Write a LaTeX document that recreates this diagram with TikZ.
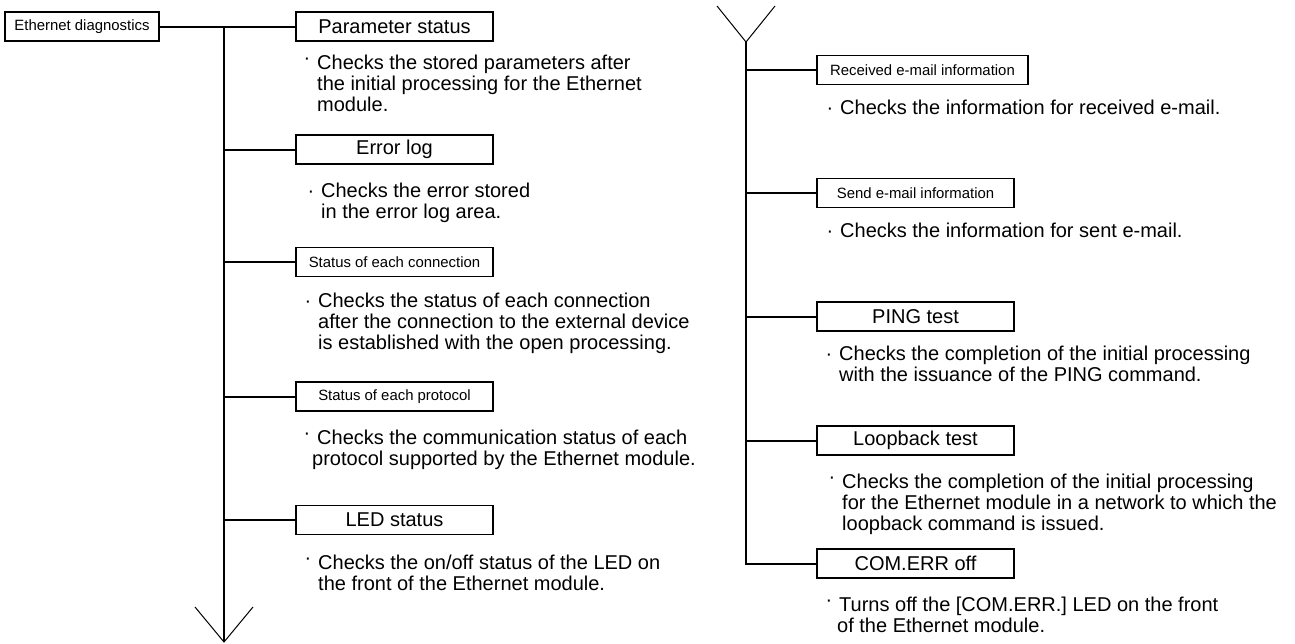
\documentclass[tikz,border=0pt]{standalone}
\usepackage{fontspec}
\setmainfont{Liberation Sans}
\usetikzlibrary{positioning,calc}

\newcommand{\dotmark}{\llap{·\hspace{7pt}}}
\newcommand{\dotmarkup}{\llap{\raisebox{5pt}{·}\hspace{7pt}}}

\begin{document}
\begin{tikzpicture}[
    x=1pt, y=-1pt,
    menu/.style={draw, rectangle, line width=1.2pt, minimum width=197pt, minimum height=29pt, inner sep=0pt, font=\fontsize{20}{24}\selectfont},
    menusmall/.style={menu, font=\fontsize{14.9}{17}\selectfont},
    note/.style={anchor=north west, align=left, inner sep=0pt, font=\fontsize{20}{21}\selectfont},
    tree/.style={line width=2pt},
    tip/.style={line width=1pt}
]
    \useasboundingbox (0,0) rectangle (1295,643);

    % left column
    \node[menusmall, minimum width=154pt] (diag) at (82,26.5) {Ethernet diagnostics};
    \node[menu] (param) at (394.5,26.5) {Parameter status};
    \node[menu] (errlog) at (394.5,149.5) {Error log};
    \node[menusmall] (conn) at (394.5,262) {Status of each connection};
    \node[menusmall] (proto) at (394.5,396.5) {Status of each protocol};
    \node[menu] (led) at (394.5,520) {LED status};

    \node[note] (paramtxt) at (317,54.5) {\dotmarkup Checks the stored parameters after\\the initial processing for the Ethernet\\module.};
    \node[note] (errtxt) at (321,182.5) {\dotmark Checks the error stored\\in the error log area.};
    \node[note] (conntxt) at (318,292.5) {\dotmark Checks the status of each connection\\after the connection to the external device\\is established with the open processing.};
    \node[note] (prototxt) at (317,429.5) {\dotmarkup Checks the communication status of each\\\hspace{-5pt}protocol supported by the Ethernet module.};
    \node[note] (ledtxt) at (318,554.5) {\dotmarkup Checks the on/off status of the LED on\\the front of the Ethernet module.};

    \coordinate (ltop) at (224,26.5);
    \coordinate (lend) at (224,642);
    \draw[tree] (diag.east) -- (param.west);
    \draw[tree] (ltop) -- (lend);
    \draw[tip] (lend) ++(-29,-35) -- (lend) -- ++(29,-35);
    \foreach \b in {errlog,conn,proto,led}
        \draw[tree] (\b.west) -- (\b.west -| ltop);

    % right column
    \node[menusmall, minimum width=211pt] (recv) at (922.5,70) {Received e-mail information};
    \node[menusmall] (send) at (915.5,193) {Send e-mail information};
    \node[menu] (ping) at (915.5,316.5) {PING test};
    \node[menu] (loop) at (915.5,440.5) {Loopback test};
    \node[menu] (comerr) at (915.5,563.5) {COM.ERR off};

    \node[note] (recvtxt) at (840,99.5) {\dotmark Checks the information for received e-mail.};
    \node[note] (sendtxt) at (840,222.5) {\dotmark Checks the information for sent e-mail.};
    \node[note] (pingtxt) at (839,345.5) {\dotmark Checks the completion of the initial processing\\with the issuance of the PING command.};
    \node[note] (looptxt) at (842,473.5) {\dotmarkup Checks the completion of the initial processing\\for the Ethernet module in a network to which the\\loopback command is issued.};
    \node[note] (comtxt) at (839,596.5) {\dotmarkup Turns off the [COM.ERR.] LED on the front\\\hspace{-2pt}of the Ethernet module.};

    \coordinate (rtop) at (746,42);
    \draw[tip] (rtop) ++(-29,-36) -- (rtop) -- ++(29,-36);
    \draw[tree] (rtop) |- (comerr.west);
    \foreach \b in {recv,send,ping,loop}
        \draw[tree] (\b.west) -- (\b.west -| rtop);
\end{tikzpicture}
\end{document}
